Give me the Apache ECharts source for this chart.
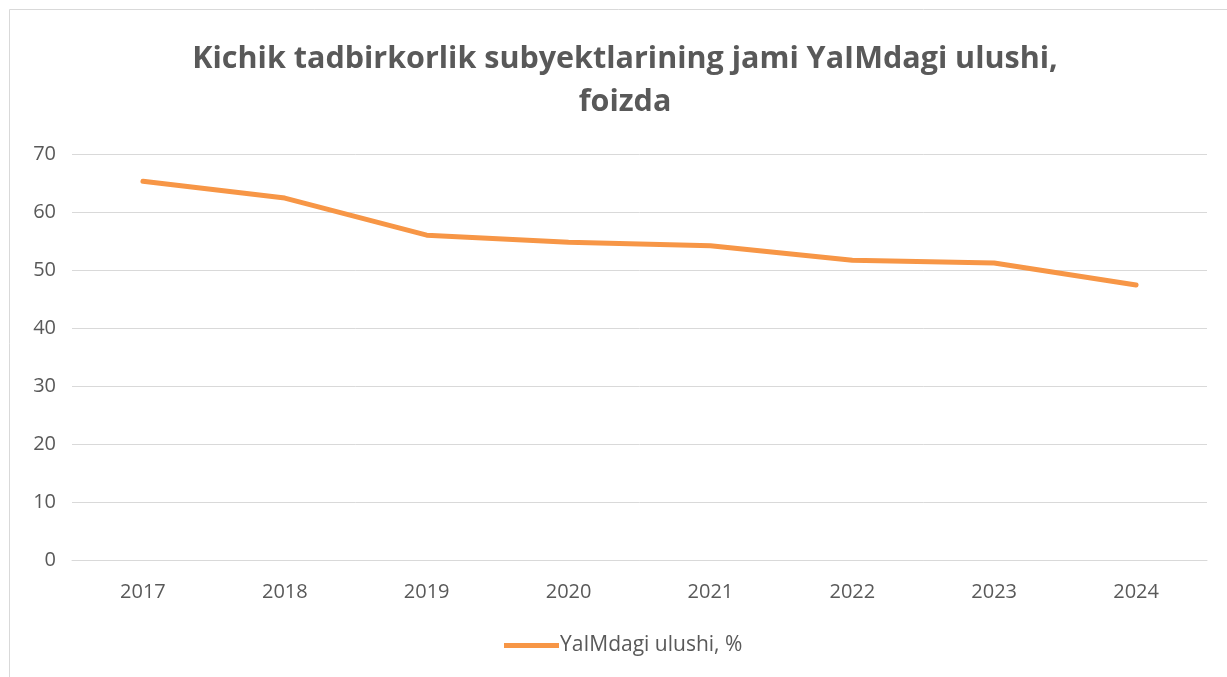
<!DOCTYPE html>
<html>
<head>
<meta charset="utf-8">
<script src="https://cdn.jsdelivr.net/npm/echarts@6/dist/echarts.min.js"></script>
<style>
  html, body { margin: 0; padding: 0; background: #fff; }
  #chart { width: 1227px; height: 677px; }
</style>
</head>
<body>
<div id="chart"></div>
<script>
  // data
  var years = ['2017', '2018', '2019', '2020', '2021', '2022', '2023', '2024'];
  var share = [65.3, 62.4, 56.0, 54.8, 54.2, 51.7, 51.2, 47.4];
  var seriesName = 'YaIMdagi ulushi, %';
  var titleText = 'Kichik tadbirkorlik subyektlarining jami YaIMdagi ulushi,\nfoizda';

  var myChart = echarts.init(document.getElementById('chart'));

  var option = {
    backgroundColor: '#fff',
    textStyle: { fontFamily: 'Open Sans' },
    graphic: [{
      type: 'rect',
      shape: { x: 9.5, y: 9.5, width: 1230, height: 680 },
      style: { fill: 'none', stroke: '#d9d9d9', lineWidth: 1 },
      silent: true
    }],
    title: {
      text: titleText,
      left: 620,
      textAlign: 'center',
      top: 33,
      textStyle: {
        fontFamily: 'Open Sans',
        fontWeight: 'bold',
        fontSize: 30.5,
        lineHeight: 43,
        color: '#595959'
      }
    },
    grid: {
      left: 72,
      right: 20,
      top: 154,
      bottom: 117
    },
    legend: {
      bottom: 16,
      left: 499,
      itemWidth: 55,
      itemHeight: 5,
      itemGap: 2,
      icon: 'rect',
      data: [seriesName],
      textStyle: { fontSize: 21, color: '#595959', padding: [0, 0, 0, -4] }
    },
    xAxis: {
      type: 'category',
      data: years,
      boundaryGap: true,
      axisLine: { show: true, lineStyle: { color: '#d9d9d9', width: 1 } },
      axisTick: { show: false },
      axisLabel: { fontSize: 20, color: '#595959', margin: 22 }
    },
    yAxis: {
      type: 'value',
      min: 0,
      max: 70,
      interval: 10,
      axisLine: { show: false },
      axisTick: { show: false },
      axisLabel: { fontSize: 20, color: '#595959', margin: 16 },
      splitLine: { lineStyle: { color: '#d9d9d9', width: 1 } }
    },
    series: [{
      name: seriesName,
      type: 'line',
      data: share,
      symbol: 'none',
      lineStyle: { color: '#F79646', width: 5, cap: 'round', join: 'round' },
      itemStyle: { color: '#F79646' }
    }]
  };

  myChart.setOption(option);
</script>
</body>
</html>
